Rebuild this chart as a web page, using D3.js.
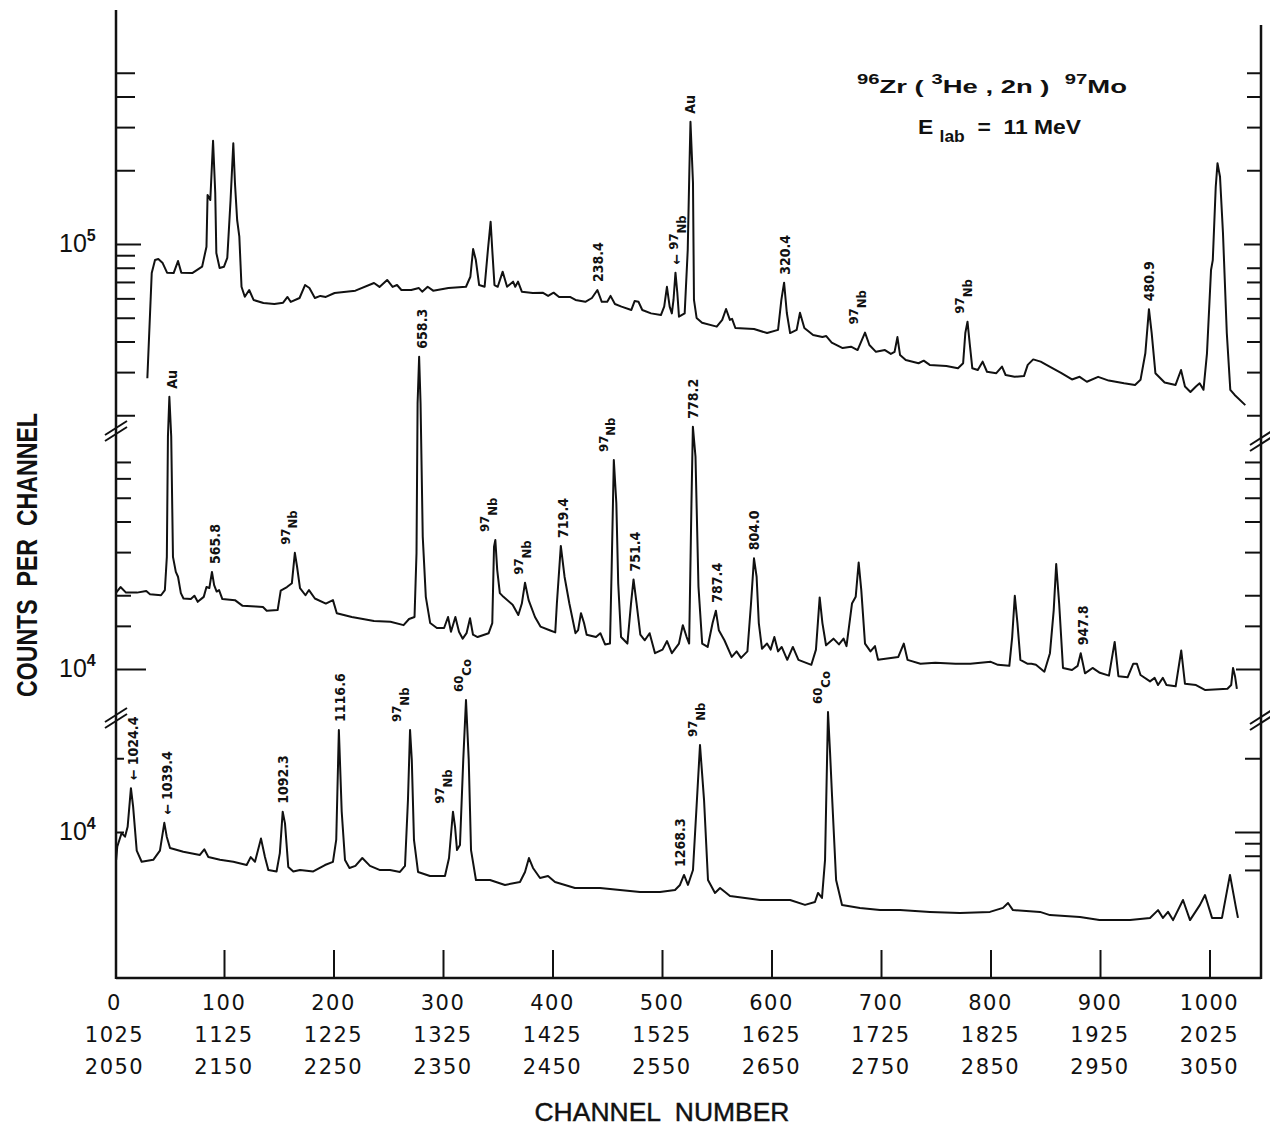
<!DOCTYPE html>
<meta charset="utf-8">
<style>

html,
body {
  margin: 0;
  overflow: hidden;
  background: #fff;
}

.spec {
  fill: none;
  stroke: #111;
  stroke-width: 2;
  stroke-linejoin: round;
}

.frame {
  stroke: #111;
  stroke-width: 2.5;
}

text {
  fill: #111;
}

</style>
<body>
<script src="https://d3js.org/d3.v7.min.js"></script>
<script>

var width = 1270,
  height = 1126;

// channel axis
var channelTicks = [0, 100, 200, 300, 400, 500, 600, 700, 800, 900, 1000];
var tickRow1 = ["0", "100", "200", "300", "400", "500", "600", "700", "800", "900", "1000"];
var tickRow2 = ["1025", "1125", "1225", "1325", "1425", "1525", "1625", "1725", "1825", "1925", "2025"];
var tickRow3 = ["2050", "2150", "2250", "2350", "2450", "2550", "2650", "2750", "2850", "2950", "3050"];

// counts axis ticks per panel
var topTicksLeft = [5e5, 4e5, 3e5, 2e5, 9e4, 8e4, 7e4, 6e4, 5e4, 4e4, 3e4, 2e4];
var topTicksRight = [5e5, 4e5, 3e5, 2e5, 8e4, 7e4, 6e4, 5e4, 4e4, 3e4, 2e4];
var midTicks = [7e4, 6e4, 5e4, 4e4, 3e4, 2e4, 1.5e4];
var botTicksLeft = [2e4];
var botTicksRight = [2e4, 9e3, 8e3, 7e3];

// spectra: [channel, counts]
var topSpectrum = [[30, 28300], [34, 76100], [37, 86000], [40, 86800], [44, 83600], [48, 76400], [54, 76100], [58, 85200], [61, 76400], [71, 76100], [80, 80800], [84, 97500], [85, 158500], [87.5, 151200], [90, 264000], [92, 161500], [93, 91900], [96, 79800], [100, 80800], [103, 87700], [106, 151200], [108.5, 257600], [110, 177400], [112, 125300], [114, 107100], [116, 66900], [119, 60900], [123, 64900], [127, 59100], [136, 57400], [146, 56900], [154, 57600], [158, 60800], [161, 58000], [169, 60200], [174, 68000], [178, 66100], [183, 60200], [188, 61400], [193, 60800], [201, 63100], [220, 64500], [237, 69300], [242, 66800], [249, 71300], [254, 66800], [258, 68000], [262, 64900], [271, 64900], [278, 66100], [281, 63900], [286, 66900], [291, 64500], [305, 66100], [321, 66900], [325, 73500], [327.5, 95400], [330, 86000], [333, 68000], [338, 66900], [341, 94500], [343.5, 123300], [345, 94500], [347, 68000], [350, 66900], [354.5, 77100], [358.5, 66900], [364, 70200], [366, 66900], [368.5, 70200], [372, 63900], [382, 63100], [391, 63300], [396, 61400], [401, 63300], [406, 60800], [416, 60800], [421, 59100], [430, 58100], [436, 60200], [441, 64900], [445, 58100], [450, 58100], [453, 61400], [457, 56900], [463, 55500], [472, 53800], [475, 58500], [478.5, 58100], [482, 53800], [490, 52100], [499, 51300], [502, 55500], [504.5, 66900], [507, 55500], [509, 52100], [510.5, 59100], [512.3, 76400], [514, 63100], [515.5, 50500], [520.7, 52100], [523.5, 94500], [525, 200500], [526, 315700], [528.3, 177400], [529.2, 59100], [531.6, 49900], [536.6, 47700], [550, 46000], [555, 49000], [558.5, 54300], [562, 49000], [564, 49500], [567, 45400], [584, 45000], [596, 43300], [606, 44600], [609, 59100], [611.5, 69500], [614, 52300], [617, 43300], [623, 44600], [626, 52400], [630, 45400], [638, 42500], [646.5, 41700], [650, 42100], [655, 39600], [665, 37600], [672.6, 38100], [678.6, 36900], [685.4, 43500], [689.4, 38700], [695.4, 36300], [703.6, 36900], [709, 35600], [712.4, 36300], [715, 41700], [717.4, 35200], [722.6, 33600], [734.3, 32600], [739, 33400], [744.5, 32100], [759.7, 31800], [770.3, 31100], [775, 32600], [777, 43300], [779, 48200], [781, 39300], [783.4, 31100], [788.4, 30600], [792.8, 33100], [796.8, 30100], [805.3, 29700], [810.5, 31600], [813.8, 29200], [822, 28700], [830.6, 28900], [834, 32100], [839, 33800], [845.8, 33100], [854, 31600], [864.4, 29800], [874.4, 28000], [881.4, 28700], [888, 27400], [898.3, 28700], [908, 27700], [922, 27000], [932, 26600], [937, 27900], [941.4, 35800], [944.7, 54200], [947.2, 43300], [950.6, 29700], [959, 27200], [969, 26600], [974, 30600], [977.6, 26200], [982.6, 24900], [987.6, 26200], [991, 27000], [994.5, 25400], [997.7, 35800], [1001.4, 78300], [1003, 86000], [1005.7, 171300], [1007.3, 213500], [1009.6, 188200], [1012.3, 110900], [1015.8, 43300], [1019, 25400], [1023, 24200], [1032.7, 22000]];

var midSpectrum = [[1.5, 20500], [5.5, 21600], [10.5, 20500], [20.5, 20500], [29, 20800], [32.4, 20200], [42.5, 20000], [46, 21000], [47.8, 28700], [48.8, 88800], [50.1, 129200], [51.8, 88800], [53.4, 28700], [56, 24900], [58, 23800], [60.6, 20400], [63, 19400], [69.7, 19300], [73, 19900], [76, 18800], [81.5, 19700], [84, 21600], [86.6, 21400], [89, 24900], [91, 22000], [93.3, 20700], [95.5, 21000], [98.5, 19300], [110, 19100], [117, 18100], [129, 18000], [135.6, 17900], [139, 17300], [149, 17400], [151.8, 20900], [157.5, 21600], [162, 22400], [164.7, 29800], [166.7, 26200], [169.4, 21400], [174.4, 20000], [177.6, 21000], [183, 19400], [193, 18500], [199.5, 19100], [203, 16900], [216.7, 16300], [237, 15700], [252, 15600], [264, 15100], [269, 16000], [274, 16300], [275.8, 29700], [276.8, 121500], [278.2, 188300], [279.5, 121500], [281.5, 34700], [284.3, 19700], [288.3, 15400], [294.4, 14700], [301, 14700], [304.6, 16300], [307.3, 14200], [311.3, 16300], [314.6, 14200], [318, 13300], [321.5, 14000], [324.7, 16100], [327.4, 13800], [331.6, 13500], [341.7, 14000], [345, 15400], [346.6, 31600], [347.8, 33600], [349.5, 25400], [351.9, 20400], [355.2, 19700], [363.6, 18300], [368.8, 16600], [372, 18500], [374.9, 22500], [378.2, 19100], [384, 16300], [389, 14900], [397.4, 14400], [402.5, 14100], [404, 18500], [407.6, 31800], [411, 23800], [415.4, 18500], [421, 14000], [423.4, 14400], [426, 16900], [428.8, 15400], [431.2, 13800], [439.7, 13500], [443.7, 14000], [448, 12600], [452.5, 12700], [454, 25400], [456, 71300], [458.3, 47500], [460, 22400], [462.6, 13500], [468.4, 12700], [471.7, 18500], [474, 23200], [476.8, 18500], [480.2, 13800], [484.3, 13100], [488.7, 14000], [493.6, 11600], [500.5, 12000], [504.6, 13000], [509, 11600], [515.5, 12700], [519, 15100], [522.5, 13500], [524.8, 12700], [526.9, 47500], [528.2, 97500], [530.6, 73400], [533.3, 21700], [536.7, 12700], [541.7, 12300], [546.2, 15400], [549.2, 17300], [551.9, 14400], [557, 13100], [563.7, 11200], [568.1, 11800], [572.2, 11100], [578, 11800], [581.3, 18500], [584, 28300], [586.4, 23800], [588.4, 15400], [591.3, 12100], [595.9, 12700], [599.2, 12000], [602.6, 13500], [606, 11800], [609.3, 12300], [614.4, 10900], [619.5, 12300], [624.6, 10900], [636.4, 10400], [640.6, 12000], [644, 19600], [646.5, 15400], [649.8, 12500], [656.6, 13300], [661.6, 12600], [665.8, 13300], [668.5, 12400], [673.5, 18500], [676.9, 19700], [679.6, 27200], [682, 21000], [685.4, 12700], [690.4, 11800], [694.5, 12400], [697.3, 10900], [715.8, 11200], [720.8, 12700], [724.2, 10900], [736, 10500], [749.6, 10600], [768, 10500], [781.6, 10500], [800.3, 10700], [806.8, 10400], [817.2, 10300], [819.8, 13500], [822.2, 19900], [824.6, 15400], [827.3, 10900], [834, 10500], [837.4, 10500], [841.5, 10400], [849.2, 9750], [854.3, 11600], [857.7, 17300], [860, 26800], [862.7, 18500], [866.2, 10100], [874.4, 9900], [879.6, 10300], [882.4, 11600], [886.3, 9600], [893.2, 10100], [899.9, 9650], [908.2, 9400], [913.4, 12900], [916.8, 9350], [925.2, 9250], [930.3, 10500], [933.7, 10500], [937, 9450], [945.7, 8900], [949.9, 9200], [953, 8600], [957.4, 9200], [960.7, 8600], [969.1, 8500], [974.2, 11900], [977.6, 8700], [987.7, 8600], [996.2, 8200], [1016.4, 8300], [1019.8, 8600], [1021.5, 10100], [1023.3, 9350], [1025, 8300]];

var botSpectrum = [[1.5, 7700], [2.5, 8700], [6.5, 9900], [9.6, 9570], [12, 10500], [15, 15100], [17, 12700], [20.3, 8400], [24.8, 7560], [35.4, 7700], [41.5, 8400], [45.5, 10900], [47.7, 9570], [50.7, 8600], [62.8, 8300], [78, 8060], [82, 8500], [85.7, 7900], [96.3, 7700], [108.5, 7560], [120.7, 7330], [124.4, 7900], [128.3, 7560], [133.8, 9400], [137.4, 7900], [140.5, 7000], [148, 6900], [151, 8200], [153.6, 12100], [155.7, 10850], [158.7, 7200], [163.3, 6900], [169.4, 7000], [181.5, 6900], [192.2, 7330], [199.5, 7550], [202.5, 9300], [204.9, 26100], [207.5, 12100], [210.5, 7690], [214.6, 7130], [220, 7270], [226.3, 7830], [233.3, 7270], [242, 7000], [251.6, 7000], [260.7, 6870], [265.3, 7270], [268, 13500], [269.9, 26100], [271.5, 19700], [273.5, 9280], [277.2, 6870], [288.1, 6610], [301.8, 6610], [305.5, 7830], [307.5, 10000], [309.1, 12100], [311, 10500], [312.8, 8440], [315.5, 8850], [318.5, 19700], [321, 34600], [323.5, 19700], [325.6, 8440], [330.1, 6370], [342.9, 6370], [356.6, 6080], [370.3, 6250], [374.9, 6870], [378.5, 7830], [382.2, 7130], [388.6, 6490], [395.9, 6610], [402.3, 6250], [420.5, 5910], [443.4, 5910], [461.6, 5800], [479.9, 5690], [498.2, 5690], [511.9, 5800], [516.4, 6080], [520.1, 6680], [523.7, 6080], [528.3, 7000], [531.9, 13500], [534.7, 22650], [538.4, 13500], [542, 6370], [548.4, 5640], [553, 5910], [562.1, 5480], [589.5, 5280], [617, 5280], [630.6, 5040], [639.7, 5180], [642.5, 5640], [646.1, 5380], [648.9, 7690], [651.6, 30900], [653.5, 21000], [655.3, 14000], [659, 6370], [664.4, 5040], [680.8, 4900], [699.1, 4800], [717.4, 4800], [744.7, 4720], [772.1, 4670], [799.5, 4720], [811.4, 4900], [816, 5130], [820.5, 4800], [845.2, 4720], [854.3, 4580], [881.7, 4500], [899.5, 4370], [927.4, 4370], [945.7, 4460], [953, 4800], [957.5, 4460], [962.1, 4720], [966.7, 4370], [975.8, 5280], [982.2, 4370], [991.3, 5040], [995.9, 5530], [1002.3, 4460], [1011.4, 4460], [1018.7, 6680], [1024.2, 4900], [1026, 4460]];

// peak labels: channel, text, optional superscript prefix, optional arrow
var topLabels = [
  {ch: 441.6, text: "238.4"},
  {ch: 512.8, sup: "97", text: "Nb", arrow: true},
  {ch: 525.6, text: "Au"},
  {ch: 612.3, text: "320.4"},
  {ch: 681.7, sup: "97", text: "Nb"},
  {ch: 778.5, sup: "97", text: "Nb"},
  {ch: 944.7, text: "480.9"}
];
var midLabels = [
  {ch: 52.5, text: "Au"},
  {ch: 91.8, text: "565.8"},
  {ch: 162.6, sup: "97", text: "Nb"},
  {ch: 280.8, text: "658.3"},
  {ch: 344.7, sup: "97", text: "Nb"},
  {ch: 375.8, sup: "97", text: "Nb"},
  {ch: 409.2, text: "719.4"},
  {ch: 453.2, sup: "97", text: "Nb"},
  {ch: 475.2, text: "751.4"},
  {ch: 528.3, text: "778.2"},
  {ch: 550.2, text: "787.4"},
  {ch: 584, text: "804.0"},
  {ch: 884.7, text: "947.8"}
];
var botLabels = [
  {ch: 16.6, text: "1024.4", arrow: true},
  {ch: 47.7, text: "1039.4", arrow: true},
  {ch: 153.6, text: "1092.3"},
  {ch: 206, text: "1116.6"},
  {ch: 264.4, sup: "97", text: "Nb"},
  {ch: 303.7, sup: "97", text: "Nb"},
  {ch: 321, sup: "60", text: "Co"},
  {ch: 516.4, text: "1268.3"},
  {ch: 534.7, sup: "97", text: "Nb"},
  {ch: 648.9, sup: "60", text: "Co"}
];

var svg = d3.select("body")
  .append("svg")
  .attr("width", width)
  .attr("height", height);

var x = d3.scaleLinear().domain([0, 1000]).range([114.5, 1209.5]);

var axLeft = 116, axRight = 1261, axBottom = 978;

var panels = [
  {data: topSpectrum, labels: topLabels, y: d3.scaleLog().domain([1e4, 1e6]).range([489, -1]),
   major: 1e5, exp: "5", left: topTicksLeft, right: topTicksRight, lenL: 19, lenR: 14, majL: 25, majR: 17},
  {data: midSpectrum, labels: midLabels, y: d3.scaleLog().domain([1e3, 1e5]).range([914, 424]),
   major: 1e4, exp: "4", left: midTicks, right: midTicks, lenL: 15, lenR: 16, majL: 30, majR: 25},
  {data: botSpectrum, labels: botLabels, y: d3.scaleLog().domain([1e3, 1e5]).range([1077, 587]),
   major: 1e4, exp: "4", left: botTicksLeft, right: botTicksRight, lenL: 8, lenR: 16, majL: 8, majR: 26}
];

// frame
svg.append("line").attr("class", "frame").attr("x1", axLeft).attr("x2", axLeft).attr("y1", 10).attr("y2", axBottom + 1);
svg.append("line").attr("class", "frame").attr("x1", axRight).attr("x2", axRight).attr("y1", 25).attr("y2", axBottom + 1);
svg.append("line").attr("class", "frame").attr("x1", axLeft).attr("x2", axRight).attr("y1", axBottom).attr("y2", axBottom);

function ticks(scale, values, len, side) {
  var ax = (side == "left" ? d3.axisRight(scale) : d3.axisLeft(scale))
    .tickValues(values).tickSize(len).tickFormat("");
  var g = svg.append("g")
    .attr("transform", "translate(" + (side == "left" ? axLeft : axRight) + ",0)")
    .call(ax);
  g.select(".domain").remove();
  g.selectAll("line").attr("stroke", "#111").attr("stroke-width", 2);
}

// channel ticks
var xa = svg.append("g")
  .attr("transform", "translate(0," + axBottom + ")")
  .call(d3.axisBottom(x).tickValues(channelTicks.slice(1)).tickSize(-28).tickFormat(""));
xa.select(".domain").remove();
xa.selectAll("line").attr("stroke", "#111").attr("stroke-width", 2);

[tickRow1, tickRow2, tickRow3].forEach(function(row, r) {
  svg.selectAll(null)
    .data(row)
    .enter().append("text")
    .attr("x", function(d, i) { return x(channelTicks[i]); })
    .attr("y", 1010 + r * 32)
    .attr("text-anchor", "middle")
    .style("font-family", "'DejaVu Sans', sans-serif")
    .style("font-size", "21px")
    .style("letter-spacing", "1.5px")
    .text(function(d) { return d; });
});

var line = d3.line();

panels.forEach(function(p) {
  ticks(p.y, p.left, p.lenL, "left");
  ticks(p.y, [p.major], p.majL, "left");
  ticks(p.y, p.right, p.lenR, "right");
  ticks(p.y, [p.major], p.majR, "right");

  var t = svg.append("text")
    .attr("x", 59)
    .attr("y", p.y(p.major) + 8)
    .style("font-family", "'Liberation Sans', sans-serif")
    .style("font-size", "25px");
  t.append("tspan").text("10");
  t.append("tspan").attr("dy", -11).style("font-size", "16px").style("font-weight", "bold").text(p.exp);

  svg.append("path")
    .datum(p.data)
    .attr("class", "spec")
    .attr("d", line.x(function(d) { return x(d[0]); }).y(function(d) { return p.y(d[1]); }));

  p.labels.forEach(function(l) {
    var near = p.data.filter(function(d) { return Math.abs(d[0] - l.ch) <= 6; });
    var top = p.y(d3.max(near, function(d) { return d[1]; })) - 8;
    var lt = svg.append("text")
      .attr("transform", "translate(" + x(l.ch) + "," + top + ") rotate(-90)")
      .attr("dy", "0.36em")
      .style("font-family", "'DejaVu Sans Condensed', 'DejaVu Sans', sans-serif")
      .style("font-weight", "bold")
      .style("font-size", "14px");
    if (l.arrow) lt.append("tspan").text("\u2190 ");
    if (l.sup) {
      lt.append("tspan").attr("dy", "-0.2em").style("font-size", "13px").text(l.sup);
      lt.append("tspan").attr("dy", "0.55em").style("font-size", "13px").text(l.text);
    } else {
      lt.append("tspan").text(l.text);
    }
  });
});

// axis breaks
function brk(cx, cy) {
  [-3, 3].forEach(function(o) {
    svg.append("line")
      .attr("x1", cx - 11).attr("y1", cy + o + 7)
      .attr("x2", cx + 11).attr("y2", cy + o - 7)
      .attr("stroke", "#111").attr("stroke-width", 2);
  });
}
brk(axLeft, 431);
brk(axLeft, 718);
brk(axRight, 441);
brk(axRight, 720);

// axis titles
svg.append("text")
  .attr("transform", "translate(37,555) rotate(-90)")
  .attr("text-anchor", "middle")
  .attr("textLength", 284)
  .attr("lengthAdjust", "spacingAndGlyphs")
  .style("font-family", "'Liberation Sans', sans-serif")
  .style("font-weight", "bold")
  .style("font-size", "30px")
  .style("white-space", "pre")
  .text("COUNTS  PER  CHANNEL");

svg.append("text")
  .attr("x", 662)
  .attr("y", 1121)
  .attr("text-anchor", "middle")
  .attr("textLength", 255)
  .attr("lengthAdjust", "spacingAndGlyphs")
  .style("font-family", "'Liberation Sans', sans-serif")
  .style("font-size", "25px")
  .style("stroke", "#111")
  .style("stroke-width", "0.4px")
  .style("white-space", "pre")
  .text("CHANNEL  NUMBER");

// reaction title
var title = svg.append("text")
  .attr("x", 857)
  .attr("y", 93)
  .style("font-family", "'Liberation Sans', sans-serif")
  .style("font-weight", "bold")
  .style("font-size", "19px")
  .style("white-space", "pre");
title.append("tspan").attr("dy", -9).style("font-size", "14px").text("96");
title.append("tspan").attr("dy", 9).text("Zr ( ");
title.append("tspan").attr("dy", -9).style("font-size", "14px").text("3");
title.append("tspan").attr("dy", 9).text("He , 2n )  ");
title.append("tspan").attr("dy", -9).style("font-size", "14px").text("97");
title.append("tspan").attr("dy", 9).text("Mo");
title.attr("textLength", 270).attr("lengthAdjust", "spacingAndGlyphs");

var elab = svg.append("text")
  .attr("x", 918)
  .attr("y", 134)
  .style("font-family", "'Liberation Sans', sans-serif")
  .style("font-weight", "bold")
  .style("font-size", "21px")
  .style("white-space", "pre");
elab.append("tspan").text("E ");
elab.append("tspan").attr("dy", 8).style("font-size", "16px").text("lab");
elab.append("tspan").attr("dy", -8).text("  =  11 MeV");
elab.attr("textLength", 163).attr("lengthAdjust", "spacingAndGlyphs");

</script>
